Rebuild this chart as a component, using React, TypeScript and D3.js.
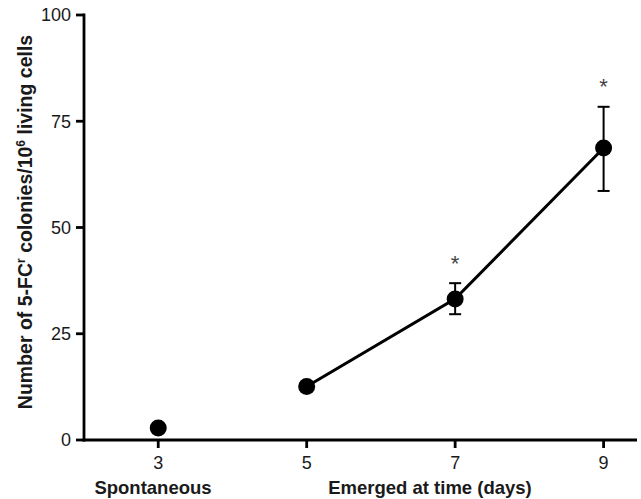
import React from "react";
import * as d3 from "d3";

const days = [3, 5, 7, 9];
const means = [2.8, 12.6, 33.2, 68.7];
const errLow = [null, null, 29.6, 58.6];
const errHigh = [null, null, 36.9, 78.4];
const significant = [false, false, true, true];
const xTicks = [3, 5, 7, 9];
const yTicks = [0, 25, 50, 75, 100];

export default function App() {
  const W = 641, H = 499;
  const x = d3.scaleLinear().domain([2, 9.45]).range([84, 637]);
  const y = d3.scaleLinear().domain([0, 100]).range([440, 15]);
  const linePts = days.map((d, i) => [d, means[i]] as [number, number]).filter((p) => p[0] >= 5);
  const line = d3.line<[number, number]>().x((p) => x(p[0])).y((p) => y(p[1]));
  const font = "Liberation Sans, Arial, sans-serif";
  const ink = "#1a1a1a";
  return (
    <svg width={W} height={H} style={{ position: "absolute", left: 0, top: 0, background: "#fff" }} fontFamily={font}>
      <line x1={x(2)} x2={x(2)} y1={y(100) - 1.5} y2={y(0) + 1.5} stroke="#000" strokeWidth={2.8} />
      <line x1={x(2) - 1.4} x2={x(9.45)} y1={y(0)} y2={y(0)} stroke="#000" strokeWidth={2.8} />
      {yTicks.map((t) => (
        <g key={t}>
          <line x1={x(2) - 8} x2={x(2)} y1={y(t)} y2={y(t)} stroke="#000" strokeWidth={2.8} />
          <text x={x(2) - 13} y={y(t)} dy="0.36em" textAnchor="end" fontSize={18} fill={ink}>{t}</text>
        </g>
      ))}
      {xTicks.map((t) => (
        <g key={t}>
          <line x1={x(t)} x2={x(t)} y1={y(0)} y2={y(0) + 8} stroke="#000" strokeWidth={2.8} />
          <text x={x(t)} y={469} textAnchor="middle" fontSize={18} fill={ink}>{t}</text>
        </g>
      ))}
      <text x={153} y={494} textAnchor="middle" fontSize={18.5} fontWeight="bold" fill={ink}>Spontaneous</text>
      <text x={430} y={494} textAnchor="middle" fontSize={18.5} fontWeight="bold" fill={ink}>Emerged at time (days)</text>
      <text transform={`translate(32,222) rotate(-90)`} textAnchor="middle" fontSize={19.5} fontWeight="bold" fill={ink}>
        Number of 5-FC<tspan dy="-7" fontSize={12}>r</tspan><tspan dy="7"> colonies/10</tspan><tspan dy="-7" fontSize={12}>6</tspan><tspan dy="7"> living cells</tspan>
      </text>
      {days.map((d, i) =>
        errLow[i] != null ? (
          <g key={"e" + d} stroke="#000" strokeWidth={2}>
            <line x1={x(d)} x2={x(d)} y1={y(errLow[i] as number)} y2={y(errHigh[i] as number)} />
            <line x1={x(d) - 6} x2={x(d) + 6} y1={y(errLow[i] as number)} y2={y(errLow[i] as number)} />
            <line x1={x(d) - 6} x2={x(d) + 6} y1={y(errHigh[i] as number)} y2={y(errHigh[i] as number)} />
          </g>
        ) : null
      )}
      <path d={line(linePts) || ""} fill="none" stroke="#000" strokeWidth={3} />
      {days.map((d, i) => (
        <circle key={"c" + d} cx={x(d)} cy={y(means[i])} r={8.5} fill="#000" />
      ))}
      {days.map((d, i) =>
        significant[i] ? (
          <text key={"s" + d} x={x(d)} y={y(errHigh[i] as number) - 29} dy="0.75em" textAnchor="middle" fontSize={22} fill="#444">*</text>
        ) : null
      )}
    </svg>
  );
}
